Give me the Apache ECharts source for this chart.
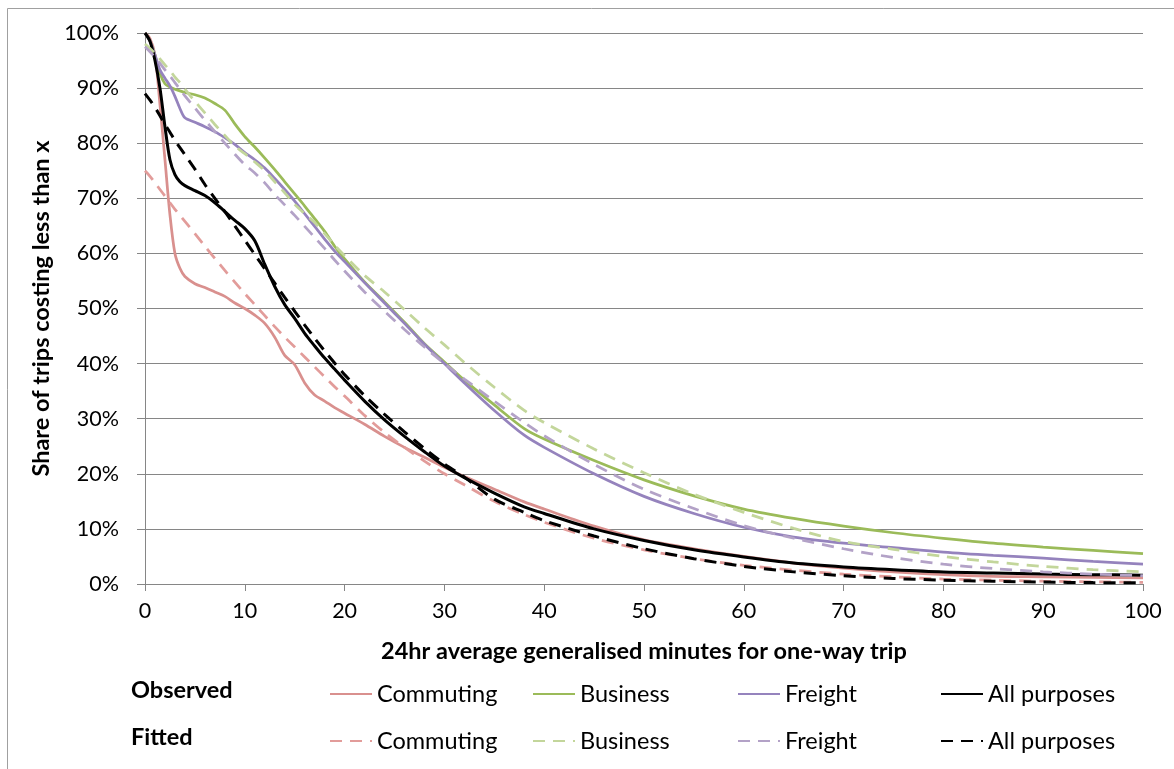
<!DOCTYPE html>
<html>
<head>
<meta charset="utf-8">
<script src="https://cdn.jsdelivr.net/npm/echarts@6/dist/echarts.min.js"></script>
<style>
  html, body { margin: 0; padding: 0; background: #fff; }
  #chart { width: 1174px; height: 769px; }
</style>
</head>
<body>
<div id="chart"></div>
<script>
// generalised minutes (x), shared by every series
const minutes = [0, 0.5, 1, 1.5, 2, 2.5, 3, 3.5, 4, 5, 6, 7, 8, 9, 10, 11, 12, 13, 14, 15, 16, 17, 18, 19, 20,
  22, 24, 26, 28, 30, 32, 35, 38, 40, 45, 50, 55, 60, 65, 70, 75, 80, 85, 90, 95, 100]

// observed shares (%)
const commutingObs = [100, 99, 96, 87, 77, 67, 60, 57.3, 55.8, 54.5, 53.8, 53, 52.2, 51, 50, 48.8, 47.3, 44.8, 41.5, 39.8, 36.5, 34.3, 33.2, 32, 31,
  29, 26.8, 24.8, 23, 21.2, 19.5, 17.2, 14.9, 13.6, 10.5, 8, 6.4, 5, 3.8, 2.9, 2.2, 1.7, 1.4, 1.3, 1.2, 1.1]
const businessObs = [100, 98.5, 96, 92.7, 90.8, 90.2, 89.8, 89.5, 89.2, 88.8, 88.2, 87.2, 86, 83.5, 81.2, 79.3, 77.3, 75.2, 73, 70.8, 68.6, 66.3, 64, 61.3, 59,
  54.8, 51.2, 47.5, 43.6, 40.3, 37, 32.5, 28.2, 26.3, 22.4, 18.9, 16, 13.6, 11.9, 10.5, 9.3, 8.3, 7.4, 6.7, 6.1, 5.5]
const freightObs = [100, 98.5, 96, 93.3, 91.8, 90.4, 88.5, 86.3, 84.6, 83.8, 83, 82.1, 81, 79.8, 78.3, 77, 75.5, 73.6, 71.6, 69.5, 67.2, 64.9, 62.6, 60.4, 58.5,
  54.7, 51, 47.3, 43.5, 40, 36.5, 31.5, 27, 24.8, 20, 15.9, 12.8, 10.3, 8.5, 7.4, 6.6, 5.8, 5.2, 4.7, 4.1, 3.6]
const allObs = [100, 98.5, 95, 90, 83, 77, 74.3, 73, 72.3, 71.4, 70.5, 69.2, 67.6, 66, 64.5, 62.3, 58, 54, 50.7, 48.2, 45.5, 43.2, 41, 39, 37,
  33.2, 29.8, 26.8, 24, 21.4, 19.3, 16.5, 14, 12.8, 10, 7.9, 6.2, 4.9, 3.8, 3.1, 2.6, 2.2, 2, 1.8, 1.7, 1.6]

// fitted shares (%)
const commutingFit = [75, 74, 72.8, 71.6, 70.4, 69.2, 68, 66.9, 65.8, 63.6, 61.3, 59.1, 56.9, 54.8, 52.7, 50.7, 48.7, 46.7, 44.8, 43, 41.2, 39.4, 37.6, 35.8, 34.1,
  30.6, 27.5, 24.8, 22.3, 20, 18, 15, 12.6, 11.2, 8.3, 6.2, 4.6, 3.4, 2.5, 1.8, 1.3, 0.9, 0.7, 0.5, 0.4, 0.3]
const businessFit = [98, 97.2, 96.3, 95.3, 94.2, 93.2, 92, 91, 89.8, 87.6, 85.5, 83.4, 81.4, 79.5, 78.1, 76.6, 75, 73, 71, 68.9, 67.2, 65.6, 63.6, 61.5, 59.6,
  56, 53, 49.8, 46.5, 43.4, 40.2, 35.7, 31.5, 29.3, 24.5, 20.2, 16.3, 13, 10.1, 7.7, 6.3, 5, 4, 3.2, 2.6, 2.2]
const freightFit = [97.5, 96.6, 95.6, 94.5, 93.3, 92.2, 91, 89.8, 88.6, 86.4, 84.2, 82.1, 80, 78, 76.1, 74.6, 72.8, 70.7, 68.8, 66.9, 64.9, 62.9, 60.9, 58.8, 56.8,
  53, 49.5, 46.2, 43, 40, 37.2, 33.2, 29.3, 26.9, 21.7, 17.2, 13.7, 10.6, 8.3, 6.4, 4.8, 3.6, 2.8, 2.2, 1.8, 1.5]
const allFit = [89, 87.8, 86.5, 85, 83.4, 82, 80.5, 79.2, 77.9, 75.3, 72.5, 70, 67.6, 65, 62.4, 59.8, 57.2, 54.6, 52, 49.5, 47, 44.6, 42.3, 40.1, 38,
  34.2, 30.8, 27.6, 24.6, 21.8, 19.4, 15.4, 13, 11.5, 8.7, 6.4, 4.6, 3.2, 2.2, 1.5, 1, 0.7, 0.5, 0.35, 0.25, 0.2]

const yTicks = [0, 10, 20, 30, 40, 50, 60, 70, 80, 90, 100]

const font = 'Lato'
const FIT = ' (fitted)'

const lines = [
  { name: 'Commuting', data: commutingObs, color: '#D9908E', dashed: false, left: 324, top: 677 },
  { name: 'Business', data: businessObs, color: '#9BBB59', dashed: false, left: 527, top: 677 },
  { name: 'Freight', data: freightObs, color: '#9583BD', dashed: false, left: 732, top: 677 },
  { name: 'All purposes', data: allObs, color: '#000000', dashed: false, left: 935, top: 677 },
  { name: 'Commuting' + FIT, data: commutingFit, color: '#E29C9A', dashed: true, left: 324, top: 724 },
  { name: 'Business' + FIT, data: businessFit, color: '#C3D69B', dashed: true, left: 527, top: 724 },
  { name: 'Freight' + FIT, data: freightFit, color: '#B3A2C7', dashed: true, left: 732, top: 724 },
  { name: 'All purposes' + FIT, data: allFit, color: '#000000', dashed: true, left: 935, top: 724 }
]

const chartDom = document.getElementById('chart')
const myChart = echarts.init(chartDom)

const options = {
  animation: false,
  backgroundColor: '#fff',
  textStyle: { fontFamily: font },
  grid: { left: 145, right: 31, top: 33, bottom: 185 },
  xAxis: {
    type: 'value',
    min: 0,
    max: 100,
    interval: 10,
    name: '24hr average generalised minutes for one-way trip',
    nameLocation: 'middle',
    nameGap: 55,
    nameTextStyle: { fontSize: 23.5, fontWeight: 'bold', color: '#000', fontFamily: font },
    axisLine: { lineStyle: { color: '#868686' } },
    axisTick: { show: true, length: 7, lineStyle: { color: '#868686' } },
    axisLabel: { fontSize: 21.5, color: '#000', margin: 16, fontFamily: font },
    splitLine: { show: false }
  },
  yAxis: {
    type: 'value',
    min: yTicks[0],
    max: yTicks[yTicks.length - 1],
    interval: 10,
    name: 'Share of trips costing less than x',
    nameLocation: 'middle',
    nameGap: 88,
    nameTextStyle: { fontSize: 23.5, fontWeight: 'bold', color: '#000', fontFamily: font },
    axisLine: { show: true, lineStyle: { color: '#868686' } },
    axisTick: { show: true, length: 8, lineStyle: { color: '#868686' } },
    axisLabel: { fontSize: 21.5, color: '#000', margin: 26, formatter: '{value}%', fontFamily: font },
    splitLine: { show: true, lineStyle: { color: '#868686', width: 1 } }
  },
  legend: lines.map((l) => ({
    data: [l.name],
    left: l.left,
    top: l.top,
    itemWidth: 42,
    itemHeight: 14,
    itemStyle: { opacity: 0 },
    formatter: (n) => n.replace(FIT, ''),
    textStyle: { fontSize: 23.5, color: '#000', fontFamily: font },
    selectedMode: false
  })),
  graphic: [
    {
      type: 'rect',
      shape: { x: 7.5, y: 8.5, width: 1200, height: 800 },
      style: { fill: null, stroke: '#A0A0A0', lineWidth: 1 },
      silent: true
    },
    {
      type: 'text',
      left: 131,
      top: 678,
      style: { text: 'Observed', font: 'bold 23.5px ' + font, fill: '#000' }
    },
    {
      type: 'text',
      left: 131,
      top: 725,
      style: { text: 'Fitted', font: 'bold 23.5px ' + font, fill: '#000' }
    }
  ],
  series: lines.map((l) => ({
    name: l.name,
    type: 'line',
    smooth: 0.3,
    symbol: 'none',
    data: minutes.map((m, i) => [m, l.data[i]]),
    lineStyle: {
      color: l.color,
      width: l.color === '#000000' ? 3 : 2.75,
      type: l.dashed ? [12, 8] : 'solid'
    },
    itemStyle: { color: l.color },
    z: l.dashed ? 3 : 2
  }))
}
myChart.setOption(options)
</script>
</body>
</html>
